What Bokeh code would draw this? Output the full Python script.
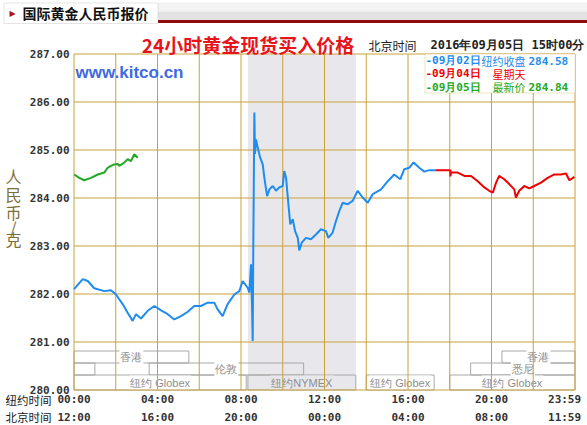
from bokeh.plotting import figure
from bokeh.models import ColumnDataSource, Label, BoxAnnotation, Range1d
from bokeh.core.properties import value
from bokeh.embed import file_html
from bokeh.resources import INLINE

# ---------------- data (hours are New York time, prices in CNY/gram) ----------------
blue_hours = [0.00, 0.42, 0.66, 0.97, 1.45, 1.77, 2.01, 2.33, 2.57, 2.81, 2.97, 3.21, 3.53,
              3.85, 4.17, 4.49, 4.80, 5.13, 5.45, 5.76, 6.08, 6.40, 6.72, 6.88, 7.12, 7.36,
              7.68, 7.92, 8.08, 8.32, 8.40, 8.48, 8.53, 8.56, 8.59, 8.64, 8.67, 8.72, 8.80,
              8.92, 9.04, 9.12, 9.25, 9.36, 9.52, 9.68, 9.83, 10.00, 10.07, 10.16, 10.27,
              10.36, 10.48, 10.59, 10.72, 10.79, 10.91, 11.11, 11.35, 11.59, 11.83, 12.07,
              12.18, 12.39, 12.55, 12.71, 12.87, 13.11, 13.35, 13.59, 13.83, 14.07, 14.31,
              14.71, 15.03, 15.34, 15.63, 15.82, 16.06, 16.27, 16.54, 16.78, 17.02, 17.34]
blue_price = [282.10, 282.31, 282.27, 282.12, 282.06, 282.08, 281.99, 281.79, 281.61, 281.44,
              281.58, 281.49, 281.65, 281.75, 281.66, 281.58, 281.47, 281.54, 281.63, 281.75,
              281.75, 281.82, 281.82, 281.68, 281.54, 281.79, 281.99, 282.06, 282.27, 282.13,
              282.03, 282.62, 281.71, 281.02, 283.04, 285.78, 284.92, 285.22, 285.05, 284.84,
              284.70, 284.42, 284.04, 284.18, 284.25, 284.15, 284.22, 284.25, 284.56, 284.42,
              283.87, 283.45, 283.56, 283.31, 283.17, 282.91, 283.07, 283.17, 283.14, 283.24,
              283.35, 283.31, 283.17, 283.28, 283.52, 283.73, 283.90, 283.87, 283.94, 284.15,
              284.01, 283.90, 284.08, 284.18, 284.35, 284.49, 284.39, 284.60, 284.63, 284.74,
              284.63, 284.55, 284.58, 284.58]

red_hours = [17.34, 18.03, 18.03, 18.06, 18.38, 18.70, 19.02, 19.34, 19.66, 19.89, 20.06,
             20.22, 20.37, 20.61, 20.85, 21.09, 21.17, 21.33, 21.57, 21.81, 22.05, 22.37,
             22.69, 23.01, 23.33, 23.57, 23.73, 23.97]
red_price = [284.58, 284.58, 284.45, 284.53, 284.53, 284.46, 284.46, 284.35, 284.22, 284.15,
             284.11, 284.32, 284.46, 284.39, 284.29, 284.18, 284.01, 284.15, 284.25, 284.20,
             284.25, 284.32, 284.42, 284.49, 284.49, 284.51, 284.37, 284.44]

green_hours = [0.01, 0.25, 0.49, 0.81, 1.14, 1.45, 1.61, 1.77, 1.93, 2.09, 2.17, 2.41, 2.57,
               2.73, 2.89, 3.05]
green_price = [284.49, 284.42, 284.37, 284.42, 284.49, 284.53, 284.63, 284.67, 284.70, 284.71,
               284.67, 284.74, 284.81, 284.77, 284.91, 284.84]

price_ticks = [280, 281, 282, 283, 284, 285, 286, 287]
grid_hours = [0, 2, 4, 6, 8, 10, 12, 14, 16, 18, 20, 22, 24]
label_hours = [0, 4, 8, 12, 16, 20, 23.5]
ny_labels = ["00:00", "04:00", "08:00", "12:00", "16:00", "20:00", "23:59"]
bj_labels = ["12:00", "16:00", "20:00", "00:00", "04:00", "08:00", "11:59"]

session_names = ["香港", "香港", "伦敦", "", "悉尼", "纽约 Globex", "纽约NYMEX",
                 "纽约 Globex", "纽约 Globex"]
session_start = [0, 20.5, 3.6, 0, 19.0, 0, 8.33, 14.0, 18.0]
session_end = [5.5, 24, 11.0, 1.0, 24, 8.25, 13.5, 17.25, 24]
session_row = [0, 0, 1, 1, 1, 2, 2, 2, 2]
nymex_start, nymex_end = 8.33, 13.5

legend_dates = ["-09月02日", "-09月04日", "-09月05日"]
legend_notes = ["纽约收盘", "星期天", "最新价"]
legend_values = [f"{blue_price[-1]:.2f}", "", f"{green_price[-1]:.2f}"]
update_time = "2016年09月05日 15时00分"

# ---------------- layout / styles ----------------
GRID = "#C9A23C"
SHADE = "#E7E7EC"
BLUE, RED, GREEN = "#1E8CF0", "#F00000", "#22A822"
MONO = "DejaVu Sans Mono"
CJK = "Noto Sans CJK SC"
WIDTH, HEIGHT = 587, 425
PLOT_L, PLOT_R, PLOT_T, PLOT_B = 73.5, 574.5, 53.5, 389.5   # chart area in page pixels
X_SPAN, Y_LO, Y_HI = 24.0, price_ticks[0], price_ticks[-1]
PX_H = (PLOT_R - PLOT_L) / X_SPAN
PX_Y = (PLOT_B - PLOT_T) / (Y_HI - Y_LO)


def dx(px):
    return (px - PLOT_L) / PX_H


def dy(py):
    return Y_HI - (py - PLOT_T) / PX_Y


p = figure(width=WIDTH, height=HEIGHT, x_range=Range1d(dx(0), dx(WIDTH)),
           y_range=Range1d(dy(HEIGHT), dy(0)), x_axis_type=None, y_axis_type=None,
           output_backend="svg", toolbar_location=None,
           min_border_left=0, min_border_right=0, min_border_top=0, min_border_bottom=0)
p.outline_line_color = None
p.background_fill_color = "white"
p.border_fill_color = "white"
p.xgrid.visible = False
p.ygrid.visible = False

# shaded NYMEX session
p.quad(left=[nymex_start], right=[nymex_end], bottom=[Y_LO], top=[Y_HI],
       fill_color=SHADE, line_color=None)

# market session boxes
row_top = [dy(350.5), dy(362.5), dy(374.5)]
row_bot = [dy(362.5), dy(374.5), dy(PLOT_B)]
sess = ColumnDataSource(dict(left=session_start, right=session_end,
                             top=[row_top[r] for r in session_row],
                             bottom=[row_bot[r] for r in session_row]))
p.quad(source=sess, left="left", right="right", top="top", bottom="bottom",
       fill_color=None, line_color="#A8A8A8", line_width=1)
lx, ly, lt, lb = [], [], [], []
for n, s, e, r in zip(session_names, session_start, session_end, session_row):
    if n:
        lx.append((s + e) / 2)
        ly.append((row_top[r] + row_bot[r]) / 2)
        lt.append(n)
        lb.append(SHADE if "NYMEX" in n else "white")
labsrc = ColumnDataSource(dict(x=lx, y=ly, text=lt, bg=lb))
p.text(x="x", y="y", text="text", source=labsrc, text_font=value("Liberation Sans"),
       text_font_size="11px", text_color="#8E8E8E", text_align="center",
       text_baseline="middle", background_fill_color="bg", padding=1)

# grid lines (vertical every 2 h, horizontal every 1 yuan) and frame
p.segment(x0=grid_hours, x1=grid_hours, y0=[Y_LO] * len(grid_hours), y1=[Y_HI] * len(grid_hours),
          line_color=GRID, line_width=1)
p.segment(x0=[0] * len(price_ticks), x1=[X_SPAN] * len(price_ticks), y0=price_ticks,
          y1=price_ticks, line_color=GRID, line_width=1)

# price lines
p.line(blue_hours, blue_price, line_color=BLUE, line_width=2)
p.line(red_hours, red_price, line_color=RED, line_width=2)
p.line(green_hours, green_price, line_color=GREEN, line_width=2)

# y tick labels
p.text(x=[dx(69)] * len(price_ticks), y=price_ticks, text=[f"{v:.2f}" for v in price_ticks],
       text_font=value(MONO), text_font_style="bold", text_font_size="11px",
       text_color="#333333", text_align="right", text_baseline="middle")
# x tick labels (New York time row, Beijing time row)
for labels, py in ((ny_labels, 399), (bj_labels, 416.5)):
    p.text(x=label_hours, y=[dy(py)] * len(label_hours), text=labels,
           text_font=value(MONO), text_font_style="bold", text_font_size="11px",
           text_color="#333333", text_align="center", text_baseline="middle")


def box(l, r, t, b, fill, line=None, **kw):
    p.add_layout(BoxAnnotation(left=l, right=r, top=HEIGHT - t, bottom=HEIGHT - b,
                               left_units="screen", right_units="screen", top_units="screen",
                               bottom_units="screen", fill_color=fill, fill_alpha=1,
                               line_color=line, line_width=1, **kw))


def lab(text, x, y, size, color, font=CJK, style="normal", align="left"):
    p.add_layout(Label(x=x, y=HEIGHT - y, x_units="screen", y_units="screen", text=text,
                       text_font=font, text_font_size=size, text_font_style=style,
                       text_color=color, text_align=align, text_baseline="middle"))


# header bar and tab
box(157, WIDTH, 2, 11, "#F3F3F3")
box(157, WIDTH, 11, 20, "#E2E2E2")
box(157, WIDTH, 19.5, 22.5, "#8E0C0C")
box(3.5, 157.5, 2.5, 23, "white", "#A6A6A6")
lab("▶", 9, 12.5, "8px", "#B01818", font="DejaVu Sans")
lab("国际黄金人民币报价", 22, 12.5, "14px", "#111111", style="bold")

# title row
lab("24小时黄金现货买入价格", 247.5, 43.5, "19px", "#E8141C", style="bold", align="center")
lab("北京时间", 368, 44.5, "12px", "#222222")
lab(update_time, 430, 44.5, "12px", "#222222", font=MONO, style="bold")

# watermark
lab("www.kitco.cn", 75, 72, "17px", "#4169E1", font="Liberation Sans", style="bold")

# legend box
box(424.5, PLOT_R, PLOT_T, 92.5, "white", GRID)
for d, n, v, c, y in zip(legend_dates, legend_notes, legend_values, [BLUE, RED, GREEN],
                         [60, 73.3, 86.7]):
    lab(d, 425, y, "11px", c, font=MONO, style="bold")
    lab(n, 525, y, "11px", c, align="right")
    if v:
        lab(v, 528, y, "11px", c, font=MONO, style="bold")

# y axis caption (vertical characters)
for ch, ry in zip("人民币/克", [175, 193, 211, 226, 238]):
    lab(ch, 13, ry, "16px", "#7D6E3C", align="center")

# time row captions
lab("纽约时间", 5, 399, "11.5px", "#222222")
lab("北京时间", 5, 416.5, "11.5px", "#222222")

open("out.html", "w").write(file_html(p, INLINE))
